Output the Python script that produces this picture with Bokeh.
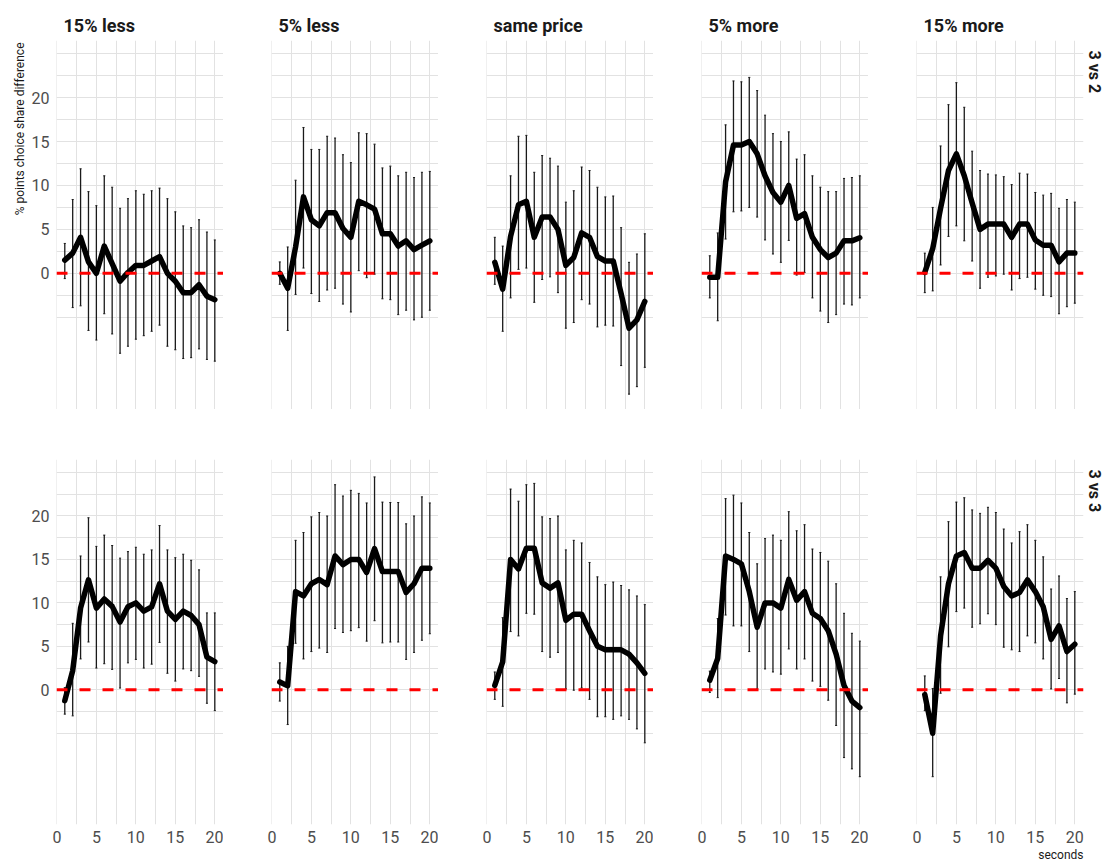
from bokeh.plotting import figure
from bokeh.models import (ColumnDataSource, Range1d, FixedTicker, Grid, LinearAxis,
                          Title, Span)
from bokeh.layouts import column, row
from bokeh.embed import file_html
from bokeh.resources import INLINE

# ---------------- data ----------------
seconds = list(range(1, 21))
prices = ["15% less", "5% less", "same price", "5% more", "15% more"]
comparisons = ["3 vs 2", "3 vs 3"]
x_ticks = [0, 5, 10, 15, 20]
y_ticks = [0, 5, 10, 15, 20]

# 3 vs 2
est_32_15less = [1.5, 2.3, 4.1, 1.3, 0.0, 3.1, 1.1, -0.9, 0.1, 0.9, 0.9, 1.4, 1.9, 0.0, -0.9, -2.2, -2.2, -1.3, -2.6, -3.0]
hi_32_15less = [3.4, 8.4, 11.9, 9.3, 7.7, 11.1, 9.8, 7.4, 8.5, 9.4, 9.0, 9.4, 9.7, 8.5, 7.0, 5.4, 5.2, 6.1, 4.7, 3.8]
lo_32_15less = [-0.6, -3.9, -3.7, -6.5, -7.6, -4.6, -6.9, -9.1, -8.3, -7.5, -7.1, -6.6, -5.9, -8.3, -8.7, -9.7, -9.6, -8.6, -9.8, -10.0]

est_32_5less = [0.0, -1.7, 3.0, 8.7, 6.1, 5.4, 6.9, 6.9, 5.1, 4.1, 8.2, 7.8, 7.3, 4.5, 4.5, 3.1, 3.7, 2.7, 3.2, 3.7]
hi_32_5less = [1.3, 3.0, 10.6, 16.6, 14.1, 14.1, 15.6, 15.4, 13.5, 12.6, 16.0, 15.9, 14.7, 12.0, 12.2, 11.1, 11.5, 10.9, 11.5, 11.6]
lo_32_5less = [-1.25, -6.5, -2.4, 0.6, -2.3, -3.2, -1.9, -1.7, -3.5, -4.4, 0.3, -0.5, -0.1, -2.9, -3.0, -4.7, -4.2, -5.3, -5.0, -4.2]

est_32_same = [1.25, -1.8, 4.2, 7.8, 8.2, 4.1, 6.4, 6.4, 5.0, 0.9, 1.8, 4.6, 4.1, 1.9, 1.4, 1.4, -2.3, -6.25, -5.3, -3.2]
hi_32_same = [4.1, 3.1, 11.1, 15.6, 15.7, 11.5, 13.4, 13.1, 12.2, 8.1, 9.4, 12.1, 11.7, 9.8, 8.7, 8.8, 5.2, 1.25, 2.2, 4.5]
lo_32_same = [-1.25, -6.6, -2.8, 0.45, 0.6, -3.3, -0.7, -0.4, -2.2, -6.25, -5.6, -3.0, -3.5, -6.1, -5.9, -6.0, -10.5, -13.75, -12.9, -10.7]

est_32_5more = [-0.45, -0.45, 10.4, 14.6, 14.6, 15.0, 13.6, 11.1, 9.2, 8.1, 10.0, 6.25, 6.8, 4.1, 2.7, 1.8, 2.3, 3.7, 3.7, 4.05]
hi_32_5more = [2.0, 4.6, 16.9, 21.9, 21.8, 22.3, 20.8, 18.0, 15.9, 15.0, 16.1, 13.0, 13.5, 11.1, 9.8, 9.3, 9.3, 10.8, 10.9, 11.1]
lo_32_5more = [-2.8, -5.4, 3.9, 7.0, 7.1, 7.5, 6.4, 3.8, 2.2, 1.25, 3.75, -0.2, 0.1, -2.8, -4.3, -5.6, -4.7, -3.5, -3.6, -2.8]

est_32_15more = [0.1, 2.8, 7.4, 11.7, 13.6, 11.1, 8.0, 5.0, 5.6, 5.6, 5.6, 4.1, 5.6, 5.6, 3.8, 3.2, 3.2, 1.3, 2.3, 2.3]
hi_32_15more = [2.3, 7.5, 14.5, 19.2, 21.7, 18.9, 13.9, 11.7, 11.3, 11.2, 11.0, 10.1, 11.4, 11.3, 9.2, 8.9, 9.1, 7.4, 8.4, 8.1]
lo_32_15more = [-2.2, -2.0, 0.95, 4.2, 5.4, 3.7, 1.4, -1.7, -0.45, -0.3, -0.1, -1.9, -0.6, -0.45, -1.8, -2.5, -2.65, -4.6, -3.8, -3.4]

# 3 vs 3
est_33_15less = [-1.25, 2.2, 9.4, 12.65, 9.4, 10.45, 9.6, 7.8, 9.55, 10.0, 9.05, 9.55, 12.2, 9.05, 8.1, 9.05, 8.55, 7.5, 3.75, 3.25]
hi_33_15less = [0.25, 7.65, 15.4, 19.8, 16.5, 17.8, 16.6, 15.15, 15.9, 16.4, 15.6, 16.1, 18.9, 16.1, 15.2, 15.6, 14.9, 13.8, 8.85, 8.85]
lo_33_15less = [-2.8, -3.0, 3.55, 5.5, 2.5, 3.0, 2.35, 0.2, 3.1, 3.5, 2.5, 2.95, 5.45, 1.9, 1.0, 2.4, 2.2, 1.55, -1.55, -2.4]

est_33_5less = [0.9, 0.45, 11.3, 10.8, 12.2, 12.7, 12.1, 15.4, 14.4, 15.0, 15.0, 13.5, 16.25, 13.6, 13.6, 13.6, 11.2, 12.2, 14.0, 14.0]
hi_33_5less = [3.1, 5.0, 17.2, 18.1, 19.9, 20.4, 20.0, 23.6, 22.3, 22.95, 22.6, 21.5, 24.5, 21.6, 21.55, 21.55, 19.1, 20.0, 22.2, 21.5]
lo_33_5less = [-1.3, -4.0, 5.35, 3.55, 4.4, 4.8, 4.3, 7.05, 6.6, 6.8, 7.15, 5.6, 7.95, 5.4, 5.5, 5.5, 3.5, 4.3, 5.7, 6.45]

est_33_same = [0.5, 3.2, 15.0, 13.9, 16.3, 16.3, 12.3, 11.7, 12.3, 8.0, 8.7, 8.7, 6.8, 5.0, 4.6, 4.6, 4.6, 4.1, 3.1, 1.9]
hi_33_same = [2.05, 8.3, 23.1, 21.7, 23.6, 23.75, 19.9, 19.7, 20.0, 16.1, 17.2, 16.9, 14.65, 13.0, 12.1, 12.4, 12.0, 11.5, 10.8, 9.8]
lo_33_same = [-1.1, -1.9, 6.7, 6.2, 8.8, 8.7, 4.4, 3.75, 4.3, 0.1, -0.05, 0.2, -1.1, -3.1, -3.1, -3.4, -3.0, -3.4, -4.5, -6.1]

est_33_5more = [1.1, 3.6, 15.4, 15.0, 14.5, 11.3, 7.2, 10.0, 10.0, 9.4, 12.7, 10.3, 11.3, 8.8, 8.2, 6.8, 4.1, 0.5, -1.3, -2.05]
hi_33_5more = [2.15, 8.2, 22.0, 22.4, 21.5, 18.1, 14.5, 17.4, 17.8, 17.2, 20.5, 18.3, 19.0, 16.2, 15.8, 14.8, 12.2, 8.8, 6.5, 5.6]
lo_33_5more = [-0.3, -0.9, 8.6, 7.35, 7.35, 4.4, 0.1, 2.4, 2.05, 1.8, 4.7, 2.4, 3.55, 1.0, 0.4, -1.2, -4.1, -7.8, -9.1, -10.0]

est_33_15more = [-0.55, -5.0, 6.2, 12.2, 15.4, 15.8, 14.0, 14.0, 14.9, 14.0, 11.9, 10.8, 11.2, 12.65, 11.3, 9.55, 5.8, 7.35, 4.4, 5.25]
hi_33_15more = [1.6, 0.15, 13.0, 19.35, 21.6, 22.1, 20.7, 20.3, 21.0, 20.4, 18.5, 16.9, 18.2, 19.0, 17.2, 15.3, 11.6, 13.1, 10.5, 11.3]
lo_33_15more = [-2.4, -10.0, -0.4, 4.95, 9.0, 9.4, 7.2, 7.6, 8.75, 7.5, 4.9, 4.6, 4.4, 6.2, 5.4, 3.55, 0.1, 1.3, -1.5, -0.5]

panels = [
    [(est_32_15less, lo_32_15less, hi_32_15less),
     (est_32_5less, lo_32_5less, hi_32_5less),
     (est_32_same, lo_32_same, hi_32_same),
     (est_32_5more, lo_32_5more, hi_32_5more),
     (est_32_15more, lo_32_15more, hi_32_15more)],
    [(est_33_15less, lo_33_15less, hi_33_15less),
     (est_33_5less, lo_33_5less, hi_33_5less),
     (est_33_same, lo_33_same, hi_33_same),
     (est_33_5more, lo_33_5more, hi_33_5more),
     (est_33_15more, lo_33_15more, hi_33_15more)],
]

# ---------------- styling ----------------
FONT = "Roboto"
GRID = "#E2E2E2"
TICK_COLOR = "#4D4D4D"
TEXT_COLOR = "#1A1A1A"
CAP = 0.13


def make_panel(r, c, est, lo, hi):
    last_col = c == 4
    p = figure(frame_width=167, frame_height=369 if r == 0 else 365,
               x_range=Range1d(-0.05, 21.1), y_range=Range1d(-15.5, 26.5),
               x_axis_type=None, y_axis_type=None,
               toolbar_location=None, output_backend="svg",
               min_border_left=56 if c == 0 else 48,
               min_border_right=24 if last_col else 0,
               min_border_top=40 if r == 0 else 50,
               min_border_bottom=41 if r == 1 else 0,
               outline_line_color=None, background_fill_color="white",
               border_fill_color="white")

    xg = FixedTicker(ticks=x_ticks, minor_ticks=[2.5, 7.5, 12.5, 17.5])
    yg = FixedTicker(ticks=[-5] + y_ticks + [25],
                     minor_ticks=[-2.5, 2.5, 7.5, 12.5, 17.5, 22.5])
    p.add_layout(Grid(dimension=0, ticker=xg, grid_line_color=GRID, grid_line_width=1,
                      minor_grid_line_color=GRID, minor_grid_line_width=1))
    p.add_layout(Grid(dimension=1, ticker=yg, grid_line_color=GRID, grid_line_width=1,
                      minor_grid_line_color=GRID, minor_grid_line_width=1))

    axis_style = dict(axis_line_color=None, major_tick_line_color=None,
                      minor_tick_line_color=None, major_tick_out=0, major_tick_in=0,
                      minor_tick_out=0, minor_tick_in=0,
                      major_label_text_font=FONT, major_label_text_font_size="16px",
                      major_label_text_color=TICK_COLOR)
    if c == 0:
        ya = LinearAxis(ticker=FixedTicker(ticks=y_ticks), major_label_standoff=7, **axis_style)
        p.add_layout(ya, "left")
        if r == 0:
            p.add_layout(Title(text="% points choice share difference", align="right",
                               offset=2, text_font=FONT, text_font_size="12px",
                               text_font_style="normal", text_color=TEXT_COLOR,
                               standoff=4), "left")
    if r == 1:
        xa = LinearAxis(ticker=FixedTicker(ticks=x_ticks), major_label_standoff=6, **axis_style)
        p.add_layout(xa, "below")
        if last_col:
            p.add_layout(Title(text="seconds", align="right", offset=0, text_font=FONT,
                               text_font_size="12px", text_font_style="normal",
                               text_color=TEXT_COLOR, standoff=0), "below")
    if r == 0:
        p.add_layout(Title(text=prices[c], align="left", offset=7, text_font=FONT,
                           text_font_size="18px", text_font_style="bold",
                           text_color=TEXT_COLOR, standoff=9), "above")
    if last_col:
        p.add_layout(Title(text=comparisons[r], align="left", offset=10, text_font=FONT,
                           text_font_size="16px", text_font_style="bold",
                           text_color=TEXT_COLOR, standoff=2), "right")

    src = ColumnDataSource(dict(x=seconds, est=est, lo=lo, hi=hi,
                                xl=[s - CAP for s in seconds],
                                xr=[s + CAP for s in seconds]))
    p.segment(x0="x", y0="lo", x1="x", y1="hi", source=src,
              line_color="#1A1A1A", line_width=1.3)
    p.segment(x0="xl", y0="hi", x1="xr", y1="hi", source=src,
              line_color="#1A1A1A", line_width=1)
    p.segment(x0="xl", y0="lo", x1="xr", y1="lo", source=src,
              line_color="#1A1A1A", line_width=1)
    p.line(x="x", y="est", source=src, line_color="black", line_width=5.5,
           line_join="round", line_cap="round")
    p.add_layout(Span(location=0, dimension="width", line_color="#FF0000",
                      line_width=3, line_dash="11 12"))
    return p


rows = []
for r in range(2):
    figs = [make_panel(r, c, *panels[r][c]) for c in range(5)]
    rows.append(row(*figs))
layout = column(*rows)

open("out.html", "w").write(file_html(layout, INLINE))
